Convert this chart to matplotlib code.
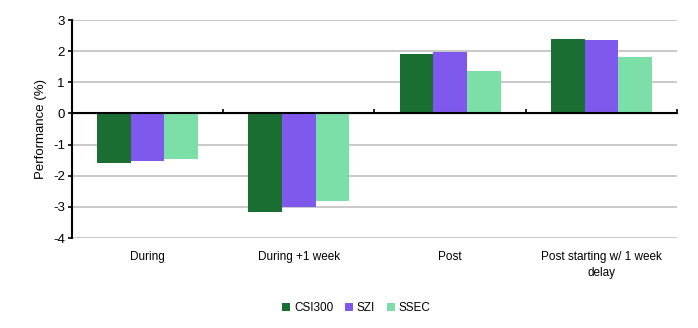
import numpy as np
import matplotlib.pyplot as plt

categories = ['During', 'During +1 week', 'Post', 'Post starting w/ 1 week\ndelay']
series = ['CSI300', 'SZI', 'SSEC']
csi300 = [-1.60, -3.17, 1.91, 2.39]
szi = [-1.54, -3.01, 1.98, 2.36]
ssec = [-1.47, -2.82, 1.37, 1.82]
colors = ['#1a6e31', '#7f59ee', '#7cdfa8']

plt.rcParams['font.family'] = ['Liberation Sans', 'DejaVu Sans']

fig = plt.figure(figsize=(6.98, 3.28), dpi=100)
ax = fig.add_axes([0.103, 0.274, 0.867, 0.665])

x = np.arange(len(categories))
w = 0.223
for i, (vals, name) in enumerate(zip([csi300, szi, ssec], series)):
    ax.bar(x + (i - 1) * w, vals, w, color=colors[i], label=name, zorder=3)

ax.set_xlim(-0.5, len(categories) - 0.5)
ax.set_ylim(-4, 3)
ax.set_yticks(range(-4, 4))
ax.set_yticklabels([str(v) for v in range(-4, 4)])
ax.yaxis.grid(True, color='#c0c0c0', linewidth=1.2, zorder=0)
ax.set_ylabel('Performance (%)', fontsize=9.5, labelpad=4)
ax.tick_params(axis='y', labelsize=9.5, length=3, width=1.2, direction='out', pad=2)

ax.set_xticks(x)
ax.set_xticklabels(categories, fontsize=8.5, linespacing=1.5)
ax.tick_params(axis='x', length=0, pad=9)

for s in ['top', 'right', 'bottom']:
    ax.spines[s].set_visible(False)
ax.spines['left'].set_linewidth(1.5)

# zero line with category boundary ticks
ax.axhline(0, color='black', linewidth=1.5, zorder=4)
sec = ax.secondary_xaxis(4 / 7)
sec.set_xticks(np.arange(len(categories) + 1) - 0.5)
sec.set_xticklabels([])
sec.tick_params(length=3, width=1.2, direction='out')
sec.spines['bottom'].set_visible(False)

ax.legend(loc='upper center', bbox_to_anchor=(0.47, -0.245), ncol=3, frameon=False,
          fontsize=8.5, handlelength=0.7, handleheight=0.7, handletextpad=0.3,
          columnspacing=1.0)

fig.savefig('out.png', dpi=100)
